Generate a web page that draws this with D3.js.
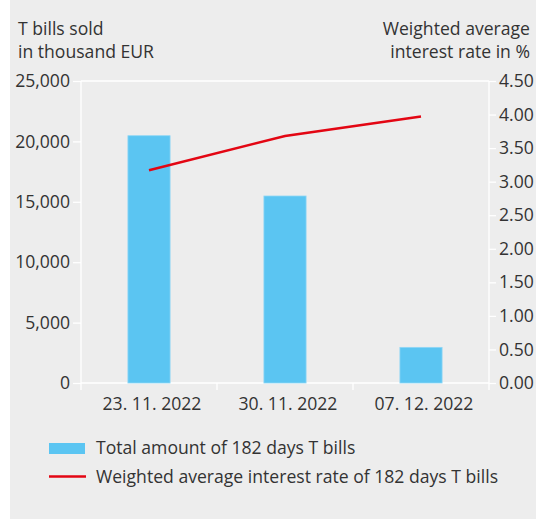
<!DOCTYPE html>
<meta charset="utf-8">
<style>
body { margin: 0; background: #fff; }
text { font-family: "Open Sans", sans-serif; fill: #333; }
</style>
<svg width="536" height="520"></svg>
<script src="https://d3js.org/d3.v7.min.js"></script>
<script>

// data
var dates = ["23. 11. 2022", "30. 11. 2022", "07. 12. 2022"];
var amounts = [20470, 15480, 2950];
var rates = [3.17, 3.68, 3.97];
var leftTicks = [0, 5000, 10000, 15000, 20000, 25000];
var rightTicks = [0, 0.5, 1, 1.5, 2, 2.5, 3, 3.5, 4, 4.5];
var legendLabels = ["Total amount of 182 days T bills", "Weighted average interest rate of 182 days T bills"];

var svg = d3.select("svg");
var mLeft = 81, mRight = 489, mTop = 81, mBottom = 383;
var fs = 17.6;

svg.append("rect")
    .attr("x", 10).attr("y", 0).attr("width", 526).attr("height", 519)
    .attr("fill", "#ededed");

var x = d3.scaleBand().domain(dates).range([mLeft, mRight]).padding(0);
var y = d3.scaleLinear().domain([0, 25000]).range([mBottom, mTop]);
var y2 = d3.scaleLinear().domain([0, 4.5]).range([mBottom, mTop]);

var fmt = d3.format(",");

// frame (white)
var frame = svg.append("g").attr("stroke", "#fff").attr("stroke-width", 1.3);
frame.append("line").attr("x1", mLeft).attr("x2", mRight).attr("y1", mTop).attr("y2", mTop);
frame.append("line").attr("x1", mLeft).attr("x2", mLeft).attr("y1", mTop).attr("y2", mBottom + 7);
frame.append("line").attr("x1", mRight).attr("x2", mRight).attr("y1", mTop).attr("y2", mBottom + 7);
frame.append("line").attr("x1", mLeft).attr("x2", mRight).attr("y1", mBottom).attr("y2", mBottom);

// left axis
var ya = svg.append("g").attr("transform", "translate(" + mLeft + ",0)")
    .call(d3.axisLeft(y).tickValues(leftTicks).tickFormat(fmt).tickSize(8).tickPadding(3));
ya.select(".domain").remove();
ya.selectAll("line").attr("stroke", "#fff").attr("stroke-width", 1.3);
ya.selectAll("text").attr("font-size", fs).attr("fill", "#333").attr("font-family", "Open Sans");

// right axis
var y2a = svg.append("g").attr("transform", "translate(" + mRight + ",0)")
    .call(d3.axisRight(y2).tickValues(rightTicks).tickFormat(d3.format(".2f")).tickSize(7).tickPadding(3));
y2a.select(".domain").remove();
y2a.selectAll("line").attr("stroke", "#fff").attr("stroke-width", 1.3);
y2a.selectAll("text").attr("font-size", fs).attr("fill", "#333").attr("font-family", "Open Sans");

// bottom ticks at category boundaries
svg.append("g").selectAll("line")
    .data(dates.slice(1))
    .enter().append("line")
      .attr("x1", function(d) { return x(d); })
      .attr("x2", function(d) { return x(d); })
      .attr("y1", mBottom).attr("y2", mBottom + 7)
      .attr("stroke", "#fff").attr("stroke-width", 1.3);

svg.append("g").selectAll("text")
    .data(dates)
    .enter().append("text")
      .attr("x", function(d) { return x(d) + x.bandwidth() / 2 + 3; })
      .attr("y", mBottom + 27)
      .attr("text-anchor", "middle")
      .attr("font-size", fs)
      .text(function(d) { return d; });

// bars
var bw = x.bandwidth() * 0.31;
svg.append("g").selectAll("rect")
    .data(amounts)
    .enter().append("rect")
      .attr("x", function(d, i) { return x(dates[i]) + (x.bandwidth() - bw) / 2; })
      .attr("y", function(d) { return y(d); })
      .attr("width", bw)
      .attr("height", function(d) { return mBottom - y(d); })
      .attr("fill", "#5bc5f2")
      .attr("stroke", "#8fd6f5").attr("stroke-width", 0.8);

// line
var line = d3.line()
    .x(function(d, i) { return x(dates[i]) + x.bandwidth() / 2; })
    .y(function(d) { return y2(d); });
svg.append("path")
    .datum(rates)
    .attr("d", line)
    .attr("fill", "none")
    .attr("stroke", "#e30613")
    .attr("stroke-width", 2.5);

// axis titles
var lt = svg.append("text").attr("font-size", fs);
lt.append("tspan").attr("x", 18).attr("y", 35).text("T bills sold");
lt.append("tspan").attr("x", 18).attr("y", 58).text("in thousand EUR");
var rt = svg.append("text").attr("font-size", fs).attr("text-anchor", "end");
rt.append("tspan").attr("x", 530).attr("y", 35).text("Weighted average");
rt.append("tspan").attr("x", 530).attr("y", 58).text("interest rate in %");

// legend
var lg = svg.append("g");
lg.append("rect").attr("x", 49).attr("y", 443).attr("width", 36).attr("height", 11).attr("fill", "#5bc5f2");
lg.append("line").attr("x1", 49).attr("x2", 86).attr("y1", 476.5).attr("y2", 476.5)
    .attr("stroke", "#e30613").attr("stroke-width", 2.5);
lg.selectAll("text")
    .data(legendLabels)
    .enter().append("text")
      .attr("x", 96)
      .attr("y", function(d, i) { return 454 + i * 29; })
      .attr("font-size", fs)
      .text(function(d) { return d; });

</script>
